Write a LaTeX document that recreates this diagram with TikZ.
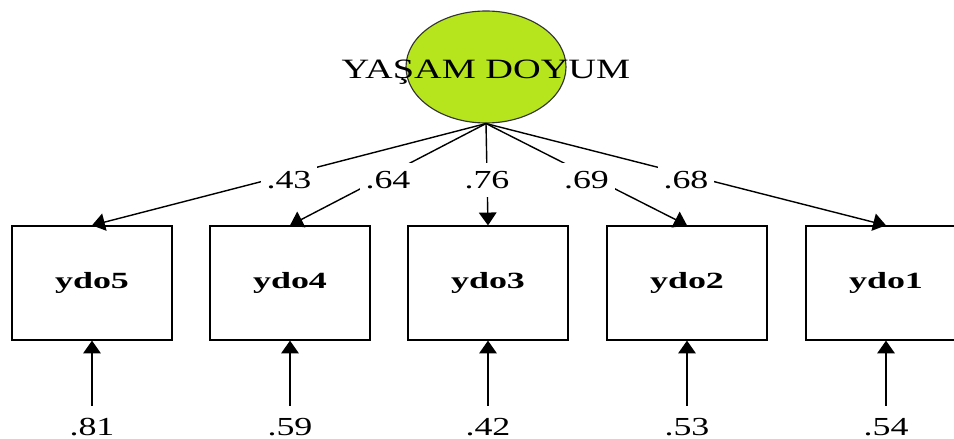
\documentclass[tikz,border=0pt]{standalone}
\usepackage{graphicx}
\usepackage{fontspec}
\setmainfont{Liberation Serif}
\usetikzlibrary{arrows.meta,positioning,shapes.geometric}
\definecolor{latgreen}{RGB}{182,229,29}
\newcommand{\wtxt}[2]{\scalebox{#1}[1]{#2}}

\begin{document}
\begin{tikzpicture}[
    latent/.style={ellipse, draw=black!80, fill=latgreen, line width=0.8pt, minimum width=4cm, minimum height=2.8cm},
    observed/.style={rectangle, draw, line width=0.9pt, minimum width=4cm, minimum height=2.85cm, font=\fontsize{16.5}{19}\selectfont\bfseries},
    coef/.style={fill=white, inner xsep=0.15cm, inner ysep=0.2cm, font=\fontsize{18.5}{22}\selectfont},
    edge/.style={-{Triangle[length=0.32cm, width=0.44cm]}, line width=1pt}
]
\useasboundingbox (0,0) rectangle (23.85,-10.975);

\node[latent] (LV) at (12.15,-1.675) {};
\node[font=\fontsize{19.9}{24}\selectfont] (LVname) at (12.15,-1.81) {\wtxt{1.37}{YAŞAM DOYUM}};

\node[observed] (Y5) at (2.3,-7.075) {\wtxt{1.55}{ydo5}};
\node[observed] (Y4) at (7.25,-7.075) {\wtxt{1.55}{ydo4}};
\node[observed] (Y3) at (12.2,-7.075) {\wtxt{1.55}{ydo3}};
\node[observed] (Y2) at (17.175,-7.075) {\wtxt{1.55}{ydo2}};
\node[observed] (Y1) at (22.15,-7.075) {\wtxt{1.55}{ydo1}};

\node[coef] (E5) at (2.3,-10.675) {\wtxt{1.38}{.81}};
\node[coef] (E4) at (7.25,-10.675) {\wtxt{1.38}{.59}};
\node[coef] (E3) at (12.2,-10.675) {\wtxt{1.38}{.42}};
\node[coef] (E2) at (17.175,-10.675) {\wtxt{1.38}{.53}};
\node[coef] (E1) at (22.15,-10.675) {\wtxt{1.38}{.54}};

\draw[edge] (LV.south) -- node[coef, pos=0.5, yshift=-0.14cm] {\wtxt{1.38}{.43}} (Y5.north);
\draw[edge] (LV.south) -- node[coef, pos=0.5, yshift=-0.14cm] {\wtxt{1.38}{.64}} (Y4.north);
\draw[edge] (LV.south) -- node[coef, pos=0.5, yshift=-0.14cm] {\wtxt{1.38}{.76}} (Y3.north);
\draw[edge] (LV.south) -- node[coef, pos=0.5, yshift=-0.14cm] {\wtxt{1.38}{.69}} (Y2.north);
\draw[edge] (LV.south) -- node[coef, pos=0.5, yshift=-0.14cm] {\wtxt{1.38}{.68}} (Y1.north);

\draw[edge, shorten <=0.1cm] (E5.north) -- (Y5.south);
\draw[edge, shorten <=0.1cm] (E4.north) -- (Y4.south);
\draw[edge, shorten <=0.1cm] (E3.north) -- (Y3.south);
\draw[edge, shorten <=0.1cm] (E2.north) -- (Y2.south);
\draw[edge, shorten <=0.1cm] (E1.north) -- (Y1.south);
\end{tikzpicture}
\end{document}
